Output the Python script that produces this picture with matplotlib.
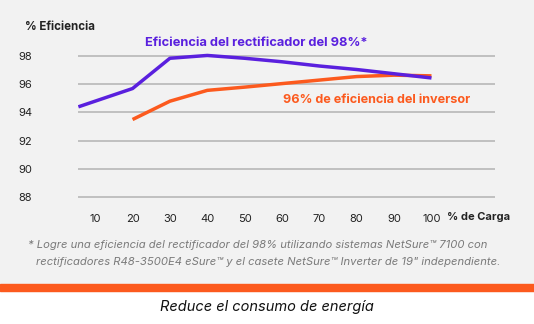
import matplotlib
matplotlib.use("Agg")
import matplotlib.pyplot as plt

plt.rcParams['font.family'] = ['Inter', 'DejaVu Sans']

# datos
carga_rect = [5.5, 20, 30, 40, 50, 60, 70, 80, 90, 100]
efic_rect = [94.4, 95.7, 97.85, 98.05, 97.85, 97.6, 97.3, 97.05, 96.75, 96.45]
carga_inv = [20, 30, 40, 50, 60, 70, 80, 90, 100]
efic_inv = [93.5, 94.8, 95.57, 95.8, 96.05, 96.3, 96.55, 96.65, 96.6]
xticks = [10, 20, 30, 40, 50, 60, 70, 80, 90, 100]
yticks = [88, 90, 92, 94, 96, 98]

purple = '#5a20de'
orange = '#fc5a1e'
bg = '#f2f2f2'

fig = plt.figure(figsize=(5.34, 3.24), dpi=100)
fig.patch.set_facecolor('white')
# fondo gris y banda naranja
fig.patches.append(plt.Rectangle((0, 33/324), 1, 1, transform=fig.transFigure, color=bg, zorder=-2))
fig.patches.append(plt.Rectangle((0, 33/324), 1, 7/324, transform=fig.transFigure, color=orange, zorder=-1))

ax = fig.add_axes([78/534, 113/324, 417/534, 183/324])
ax.set_facecolor('none')
ax.set_xlim(5.4, 117)
ax.set_ylim(87, 100)
for s in ax.spines.values():
    s.set_visible(False)
ax.set_yticks(yticks)
ax.set_xticks(xticks)
ax.grid(axis='y', color='#b8b8b8', linewidth=1.2)
ax.tick_params(length=0, labelsize=8, colors='#222222')
ax.tick_params(axis='y', pad=33)
ax.tick_params(axis='x', pad=2)

ax.plot(carga_rect, efic_rect, color=purple, linewidth=2.5, solid_capstyle='butt', zorder=3)
ax.plot(carga_inv, efic_inv, color=orange, linewidth=2.5, solid_capstyle='butt', zorder=2)

fig.text(25/534, 1 - 27/324, '% Eficiencia', fontsize=8.3, fontweight='bold', va='center', color='#222222')
fig.text(145/534, 1 - 43/324, 'Eficiencia del rectificador del 98%*', fontsize=9.25, fontweight='bold',
         va='center', color=purple)
fig.text(283/534, 1 - 100/324, '96% de eficiencia del inversor', fontsize=9.1, fontweight='bold',
         va='center', color=orange)
fig.text(447/534, 1 - 217/324, '% de Carga', fontsize=8, fontweight='bold', va='center', color='#222222')

fig.text(28/534, 1 - 245/324,
         '* Logre una eficiencia del rectificador del 98% utilizando sistemas NetSure\u2122 7100 con',
         fontsize=8.1, style='italic', color='#7a7a7a', va='center')
fig.text(36/534, 1 - 262/324,
         'rectificadores R48-3500E4 eSure\u2122 y el casete NetSure\u2122 Inverter de 19" independiente.',
         fontsize=8.1, style='italic', color='#7a7a7a', va='center')
fig.text(0.5, 1 - 307/324, 'Reduce el consumo de energía', fontsize=10.5, style='italic',
         color='#111111', ha='center', va='center')

fig.savefig('out.png', dpi=100, facecolor=fig.get_facecolor())
